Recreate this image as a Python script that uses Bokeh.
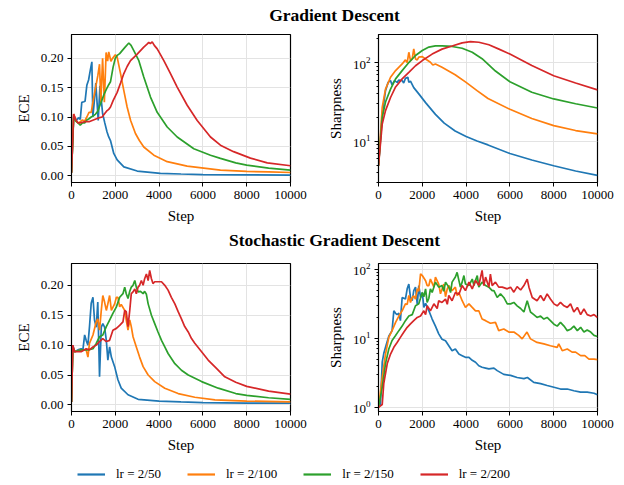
from bokeh.plotting import figure
from bokeh.layouts import column, row
from bokeh.models import (Range1d, FixedTicker, NumeralTickFormatter, LogTickFormatter,
                          Legend, LegendItem, Label)
from bokeh.embed import file_html
from bokeh.resources import INLINE

FONT = "Liberation Serif"
COLORS = ["#1f77b4", "#ff7f0e", "#2ca02c", "#d62728"]
LABELS = ["lr = 2/50", "lr = 2/100", "lr = 2/150", "lr = 2/200"]
X_TICKS = [0, 2000, 4000, 6000, 8000, 10000]
ECE_TICKS = [0.0, 0.05, 0.10, 0.15, 0.20]
LOG_MAJOR = [1, 10, 100]
LOG_MINOR = [2, 3, 4, 5, 6, 7, 8, 9, 20, 30, 40, 50, 60, 70, 80, 90, 200, 300]
TITLES = ["Gradient Descent", "Stochastic Gradient Descent"]

# ---------------- Gradient Descent: ECE (step, value) ----------------
gd_ece_lr50 = [(0, 0.005), (100, 0.103), (170, 0.097), (250, 0.095), (320, 0.099), (400, 0.096),
               (470, 0.125), (560, 0.126), (620, 0.127), (700, 0.154), (780, 0.163), (855, 0.179),
               (930, 0.194), (975, 0.100), (1050, 0.130), (1110, 0.158), (1220, 0.094), (1300, 0.153),
               (1420, 0.106), (1520, 0.090), (1620, 0.075), (1700, 0.066), (1780, 0.060), (1930, 0.038),
               (2085, 0.027), (2390, 0.015), (3000, 0.008), (4060, 0.004), (5000, 0.003), (6000, 0.002),
               (8000, 0.0015), (10000, 0.0012)]
gd_ece_lr100 = [(0, 0.005), (100, 0.105), (200, 0.093), (300, 0.090), (400, 0.092), (500, 0.095),
                (600, 0.093), (700, 0.100), (800, 0.108), (900, 0.108), (1000, 0.130), (1100, 0.150),
                (1200, 0.170), (1280, 0.190), (1340, 0.125), (1420, 0.200), (1500, 0.125), (1580, 0.210),
                (1650, 0.195), (1700, 0.211), (1800, 0.195), (1860, 0.199), (2000, 0.206), (2085, 0.202),
                (2240, 0.174), (2390, 0.145), (2540, 0.117), (2700, 0.094), (2920, 0.072), (3100, 0.060),
                (3300, 0.049), (3760, 0.035), (4370, 0.024), (5280, 0.0164), (6800, 0.0097), (8000, 0.0075),
                (9000, 0.0065), (10000, 0.0055)]
gd_ece_lr150 = [(0, 0.005), (100, 0.100), (200, 0.093), (300, 0.090), (400, 0.086), (500, 0.090),
                (600, 0.090), (700, 0.095), (800, 0.097), (900, 0.100), (1000, 0.102), (1100, 0.105),
                (1200, 0.110), (1300, 0.120), (1400, 0.130), (1500, 0.140), (1600, 0.148), (1700, 0.155),
                (1780, 0.160), (1900, 0.185), (2000, 0.200), (2085, 0.205), (2200, 0.208), (2313, 0.213),
                (2450, 0.219), (2618, 0.226), (2720, 0.222), (2845, 0.213), (3075, 0.196), (3300, 0.168),
                (3607, 0.134), (3913, 0.108), (4370, 0.083), (4826, 0.066), (5585, 0.046), (6347, 0.035),
                (6800, 0.0295), (7500, 0.022), (8000, 0.018), (9000, 0.013), (10000, 0.0095)]
gd_ece_lr200 = [(0, 0.005), (100, 0.105), (200, 0.095), (300, 0.090), (400, 0.090), (600, 0.092),
                (800, 0.092), (1000, 0.095), (1200, 0.098), (1400, 0.100), (1500, 0.105), (1600, 0.110),
                (1700, 0.113), (1781, 0.117), (1900, 0.128), (2085, 0.142), (2240, 0.158), (2390, 0.174),
                (2540, 0.186), (2694, 0.196), (3000, 0.207), (3300, 0.219), (3450, 0.224), (3530, 0.227),
                (3600, 0.225), (3685, 0.228), (3780, 0.222), (3913, 0.216), (4050, 0.207), (4216, 0.196),
                (4520, 0.174), (4826, 0.151), (5283, 0.120), (5740, 0.094), (6347, 0.066), (6800, 0.052),
                (7400, 0.041), (8170, 0.030), (8940, 0.022), (10000, 0.017)]

# ---------------- Gradient Descent: Sharpness ----------------
gd_sh_lr50 = [(0, 4.9), (100, 12), (170, 22), (320, 44), (440, 56), (550, 59), (620, 52), (730, 59),
              (850, 56), (930, 60), (1080, 59), (1150, 55), (1230, 63), (1340, 65), (1385, 56), (1460, 58),
              (1610, 48), (1840, 40), (2150, 31), (2600, 22), (3000, 17), (3500, 13.5), (4000, 11.5),
              (4500, 10.1), (5000, 9.0), (6000, 7.0), (7000, 5.8), (8000, 4.9), (9000, 4.2), (10000, 3.7)]
gd_sh_lr100 = [(0, 4.9), (170, 27), (320, 46), (550, 65), (780, 79), (1080, 96), (1230, 108), (1310, 100),
               (1385, 135), (1460, 106), (1540, 111), (1610, 149), (1690, 111), (1770, 108), (1840, 117),
               (2000, 119), (2150, 111), (2370, 101), (2480, 93), (2600, 96), (2900, 87), (3500, 70),
               (4000, 56), (4500, 44), (5000, 35), (6000, 25.5), (7000, 19.5), (8000, 15.8), (9000, 13.7),
               (10000, 12.4)]
gd_sh_lr150 = [(0, 4.9), (170, 20), (320, 31.5), (550, 46), (780, 62), (1080, 79), (1385, 100),
               (1690, 123), (2000, 142), (2300, 157), (2600, 163), (2900, 163), (3360, 160), (3820, 152),
               (4280, 135), (4730, 112), (5340, 78), (6000, 57), (7000, 42), (8000, 34.5), (9000, 30),
               (10000, 26.5)]
gd_sh_lr200 = [(0, 4.9), (170, 16.6), (320, 24.5), (550, 36), (780, 49), (1080, 62), (1385, 75),
               (1690, 91), (2000, 106), (2450, 128), (2900, 148), (3360, 162), (3820, 178), (4200, 184),
               (4580, 181), (5040, 168), (5500, 148), (6000, 128), (7000, 92), (8000, 68), (9000, 55),
               (10000, 45)]

# ---------------- SGD: ECE ----------------
sgd_ece_lr50 = [(0, 0.005), (60, 0.100), (140, 0.089), (290, 0.092), (440, 0.094), (520, 0.092),
                (600, 0.117), (670, 0.108), (750, 0.100), (820, 0.130), (900, 0.170), (980, 0.180),
                (1050, 0.142), (1130, 0.130), (1200, 0.172), (1280, 0.047), (1360, 0.130), (1430, 0.136),
                (1510, 0.130), (1590, 0.108), (1660, 0.075), (1740, 0.097), (1820, 0.080), (1970, 0.064),
                (2120, 0.042), (2270, 0.028), (2580, 0.017), (3040, 0.0094), (4000, 0.0065), (5000, 0.005),
                (6000, 0.004), (8000, 0.003), (10000, 0.003)]
sgd_ece_lr100 = [(0, 0.005), (60, 0.097), (140, 0.089), (440, 0.092), (670, 0.092), (750, 0.080),
                 (820, 0.103), (980, 0.117), (1130, 0.139), (1200, 0.144), (1280, 0.125), (1360, 0.158),
                 (1430, 0.183), (1510, 0.172), (1590, 0.158), (1660, 0.169), (1740, 0.183), (1820, 0.158),
                 (1970, 0.169), (2050, 0.180), (2120, 0.180), (2200, 0.164), (2270, 0.168), (2430, 0.158),
                 (2500, 0.142), (2580, 0.125), (2660, 0.142), (2730, 0.131), (2810, 0.114), (2960, 0.097),
                 (3110, 0.080), (3270, 0.064), (3500, 0.050), (3800, 0.039), (4260, 0.028), (4870, 0.019),
                 (5630, 0.0128), (6550, 0.0083), (8000, 0.0065), (10000, 0.005)]
sgd_ece_lr150 = [(0, 0.005), (60, 0.097), (140, 0.089), (440, 0.092), (750, 0.092), (980, 0.094),
                 (1130, 0.103), (1280, 0.114), (1430, 0.117), (1590, 0.131), (1740, 0.142), (1890, 0.153),
                 (2050, 0.164), (2200, 0.180), (2350, 0.186), (2430, 0.197), (2500, 0.186), (2580, 0.178),
                 (2660, 0.190), (2730, 0.197), (2810, 0.200), (2890, 0.208), (2960, 0.197), (3040, 0.189),
                 (3150, 0.190), (3270, 0.186), (3340, 0.190), (3420, 0.185), (3500, 0.169), (3650, 0.150),
                 (3800, 0.136), (3950, 0.122), (4110, 0.108), (4260, 0.097), (4410, 0.086), (4720, 0.069),
                 (5020, 0.058), (5330, 0.050), (5940, 0.039), (6700, 0.028), (7500, 0.019), (8000, 0.016),
                 (9000, 0.012), (10000, 0.0094)]
sgd_ece_lr200 = [(0, 0.005), (60, 0.100), (140, 0.089), (440, 0.089), (670, 0.094), (820, 0.092),
                 (980, 0.097), (1130, 0.100), (1280, 0.106), (1430, 0.111), (1590, 0.106), (1740, 0.108),
                 (1890, 0.125), (2050, 0.128), (2200, 0.133), (2350, 0.139), (2430, 0.158), (2500, 0.156),
                 (2580, 0.131), (2660, 0.158), (2730, 0.186), (2810, 0.189), (2890, 0.194), (2960, 0.186),
                 (3040, 0.197), (3110, 0.200), (3190, 0.208), (3270, 0.200), (3340, 0.211), (3420, 0.219),
                 (3500, 0.208), (3570, 0.225), (3650, 0.211), (3720, 0.203), (3800, 0.206), (3950, 0.206),
                 (4110, 0.206), (4260, 0.200), (4410, 0.192), (4560, 0.180), (4720, 0.169), (4870, 0.156),
                 (5020, 0.144), (5170, 0.131), (5330, 0.122), (5480, 0.111), (5630, 0.103), (5940, 0.089),
                 (6240, 0.075), (6620, 0.061), (7000, 0.047), (7500, 0.038), (8000, 0.031), (9000, 0.023),
                 (10000, 0.018)]

# ---------------- SGD: Sharpness ----------------
sgd_sh_lr50 = [(0, 1.0), (90, 1.1), (170, 4.5), (240, 6.0), (350, 8.0), (470, 10.7), (620, 12.9),
               (700, 25), (780, 23), (850, 22), (930, 23), (1000, 18), (1080, 39), (1160, 38), (1230, 37),
               (1310, 52), (1385, 61), (1460, 39), (1540, 35), (1610, 49), (1690, 55), (1770, 31),
               (1840, 58), (1920, 39), (2000, 46), (2070, 28), (2150, 32), (2300, 25), (2450, 19),
               (2600, 15), (2750, 11.6), (2900, 9.7), (3060, 9.2), (3210, 7.8), (3360, 6.6), (3510, 7.0),
               (3670, 5.9), (3820, 5.6), (3970, 5.3), (4130, 5.3), (4280, 4.8), (4430, 4.5), (4580, 4.0),
               (4730, 3.8), (4890, 3.7), (5040, 3.6), (5270, 3.7), (5420, 3.4), (5720, 3.0), (6030, 2.9),
               (6330, 2.7), (6640, 2.6), (6800, 2.7), (7090, 2.3), (7400, 2.2), (7700, 2.07), (8010, 1.95),
               (8310, 1.84), (8620, 1.84), (8920, 1.74), (9230, 1.66), (9530, 1.66), (9840, 1.6),
               (10000, 1.52)]
sgd_sh_lr100 = [(0, 1.0), (170, 2.7), (320, 5.9), (470, 10.3), (620, 12.9), (780, 17), (930, 21),
                (1080, 25), (1230, 31.5), (1310, 31), (1385, 41.6), (1460, 33), (1540, 39), (1610, 41),
                (1690, 37), (1770, 52), (1840, 48), (1920, 86), (2000, 81), (2150, 68), (2220, 58),
                (2300, 58), (2370, 72), (2530, 55), (2600, 77), (2750, 61), (2830, 44), (2980, 61),
                (3060, 40), (3140, 52), (3210, 58), (3360, 49), (3510, 55), (3590, 41.6), (3670, 46),
                (3820, 35), (3970, 28), (4130, 31.5), (4280, 28), (4430, 25), (4580, 25), (4730, 19),
                (4890, 18), (5110, 16.5), (5340, 17), (5490, 12.9), (5720, 13.6), (5950, 12.3), (6180, 12.3),
                (6400, 11), (6560, 9.8), (6780, 12.3), (6940, 9.8), (7240, 8.7), (7550, 8.3), (7850, 7.8),
                (8160, 7.4), (8230, 8.3), (8390, 6.6), (8620, 7.0), (8840, 6.3), (9000, 6.3), (9230, 5.6),
                (9420, 5.6), (9610, 5.0), (9840, 5.0), (10000, 4.9)]
sgd_sh_lr150 = [(0, 1.0), (170, 1.95), (320, 4.3), (470, 7), (620, 9.3), (780, 11), (930, 12.9),
                (1080, 15), (1230, 18), (1385, 21), (1540, 22), (1690, 29.5), (1840, 31.5), (2000, 46),
                (2070, 40), (2150, 52), (2220, 33), (2300, 38), (2370, 52), (2450, 46), (2600, 65),
                (2750, 55), (2900, 58), (2980, 48), (3060, 65), (3210, 55), (3290, 46), (3360, 65),
                (3510, 77), (3590, 90), (3670, 69), (3740, 55), (3820, 65), (3900, 81), (3970, 61),
                (4130, 58), (4280, 72), (4360, 58), (4430, 69), (4510, 81), (4580, 55), (4730, 65),
                (4890, 58), (5040, 55), (5190, 49), (5270, 49), (5420, 39), (5570, 44), (5720, 39),
                (5880, 31.5), (6030, 31.5), (6180, 33), (6330, 29.5), (6490, 27), (6640, 24), (6790, 35),
                (6940, 24), (7090, 22), (7240, 20), (7400, 21), (7550, 19), (7700, 20), (7850, 18),
                (8010, 16), (8160, 15), (8310, 17), (8470, 15), (8620, 12.9), (8770, 13.5), (8920, 15),
                (9080, 12.9), (9230, 14.4), (9380, 12.3), (9530, 13.2), (9690, 12.3), (9840, 11),
                (10000, 10.6)]
sgd_sh_lr200 = [(0, 1.0), (170, 1.1), (240, 2.2), (400, 4.3), (550, 5.9), (700, 7.4), (850, 8.7),
                (1000, 10.3), (1160, 12.3), (1310, 14.4), (1460, 16.2), (1610, 18), (1770, 20), (1920, 21),
                (2070, 25), (2150, 22), (2220, 29.5), (2370, 25), (2530, 31.5), (2680, 27), (2750, 35),
                (2900, 33), (3060, 37), (3140, 31), (3210, 41.6), (3360, 35), (3510, 46), (3670, 43),
                (3820, 58), (3970, 49), (4130, 65), (4280, 52), (4430, 69), (4580, 58), (4730, 96),
                (4810, 58), (4890, 77), (5040, 55), (5110, 85), (5190, 58), (5340, 65), (5490, 55),
                (5650, 55), (5880, 52), (6030, 55), (6180, 46.5), (6330, 56), (6490, 50), (6640, 58),
                (6790, 72), (6870, 55), (7020, 39), (7240, 35), (7400, 41.6), (7550, 35), (7700, 44),
                (7850, 37), (8010, 31.5), (8160, 29.5), (8310, 33), (8470, 29.5), (8620, 28), (8770, 31.5),
                (8920, 24), (9080, 28), (9230, 22), (9380, 26.5), (9530, 22), (9690, 21), (9840, 22),
                (10000, 20)]


def style(p, ylabel, log=False):
    p.xaxis.ticker = FixedTicker(ticks=X_TICKS)
    p.xaxis.axis_label = "Step"
    p.yaxis.axis_label = ylabel
    p.axis.axis_label_text_font = FONT
    p.axis.axis_label_text_font_style = "normal"
    p.axis.axis_label_text_font_size = "15px"
    p.axis.axis_label_text_color = "black"
    p.axis.major_label_text_font = FONT
    p.axis.major_label_text_font_size = "13px"
    p.axis.major_label_text_color = "black"
    p.axis.major_tick_in = 0
    p.axis.major_tick_out = 4
    p.axis.minor_tick_in = 0
    p.axis.minor_tick_out = 2
    p.axis.axis_line_color = "black"
    p.axis.major_tick_line_color = "black"
    p.axis.minor_tick_line_color = "black"
    p.xaxis.minor_tick_line_color = None
    p.axis.axis_label_standoff = 6
    p.axis.major_label_standoff = 4
    if log:
        p.yaxis.ticker = FixedTicker(ticks=LOG_MAJOR, minor_ticks=LOG_MINOR)
        p.yaxis.formatter = LogTickFormatter()
    else:
        p.yaxis.ticker = FixedTicker(ticks=ECE_TICKS)
        p.yaxis.formatter = NumeralTickFormatter(format="0.00")
        p.yaxis.minor_tick_line_color = None
    p.grid.grid_line_color = "#e3e3e3"
    p.grid.grid_line_width = 1
    p.outline_line_color = "black"
    p.outline_line_width = 1.2
    p.background_fill_color = "white"
    p.border_fill_color = "white"


def panel(series, ylabel, y_range, log, left, right, top, bottom, width, height):
    p = figure(width=width, height=height, x_range=Range1d(0, 10000),
               y_range=Range1d(*y_range), y_axis_type="log" if log else "linear",
               toolbar_location=None, output_backend="svg",
               min_border_left=left, min_border_right=right,
               min_border_top=top, min_border_bottom=bottom)
    for pts, c in zip(series, COLORS):
        xs = [a for a, b in pts]
        ys = [b for a, b in pts]
        p.line(xs, ys, line_color=c, line_width=1.7)
    style(p, ylabel, log)
    return p


def title_fig(text, height, y_from_bottom):
    t = figure(width=624, height=height, x_range=Range1d(0, 1), y_range=Range1d(0, 1),
               toolbar_location=None, output_backend="svg", min_border=0,
               x_axis_location=None, y_axis_location=None)
    t.grid.visible = False
    t.outline_line_color = None
    t.add_layout(Label(x=334, y=y_from_bottom, x_units="screen", y_units="screen", text=text,
                       text_align="center", text_baseline="middle", text_font=FONT,
                       text_font_style="bold", text_font_size="17.5px", text_color="black"))
    return t


a = panel([gd_ece_lr50, gd_ece_lr100, gd_ece_lr150, gd_ece_lr200], "ECE", (-0.0115, 0.2405), False,
          71, 20, 4, 48, 310, 200)
b = panel([gd_sh_lr50, gd_sh_lr100, gd_sh_lr150, gd_sh_lr200], "Sharpness", (3.0, 227), True,
          68, 27, 4, 48, 314, 200)
c = panel([sgd_ece_lr50, sgd_ece_lr100, sgd_ece_lr150, sgd_ece_lr200], "ECE", (-0.011, 0.2365), False,
          71, 20, 8, 44, 310, 200)
d = panel([sgd_sh_lr50, sgd_sh_lr100, sgd_sh_lr150, sgd_sh_lr200], "Sharpness", (0.87, 121), True,
          68, 27, 8, 44, 314, 200)

t1 = title_fig(TITLES[0], 30, 16)
t2 = title_fig(TITLES[1], 25, 16)

leg = figure(width=624, height=30, x_range=Range1d(0, 1), y_range=Range1d(0, 1),
             toolbar_location=None, output_backend="svg", min_border=0,
             x_axis_location=None, y_axis_location=None)
leg.grid.visible = False
leg.outline_line_color = None
items = []
nan = float("nan")
for c_, lab in zip(COLORS, LABELS):
    r = leg.line(x=[nan, nan], y=[nan, nan], line_color=c_, line_width=2.2)
    items.append(LegendItem(label=lab, renderers=[r]))
legend = Legend(items=items, orientation="horizontal", location=(77, 1),
                padding=0, margin=0, spacing=26, glyph_width=28, glyph_height=20,
                label_standoff=11, label_text_font=FONT, label_text_font_size="13px",
                label_text_color="black", border_line_color=None, background_fill_alpha=0)
leg.add_layout(legend)

layout = column(t1, row(a, b), t2, row(c, d), leg)

open("out.html", "w").write(file_html(layout, INLINE))
